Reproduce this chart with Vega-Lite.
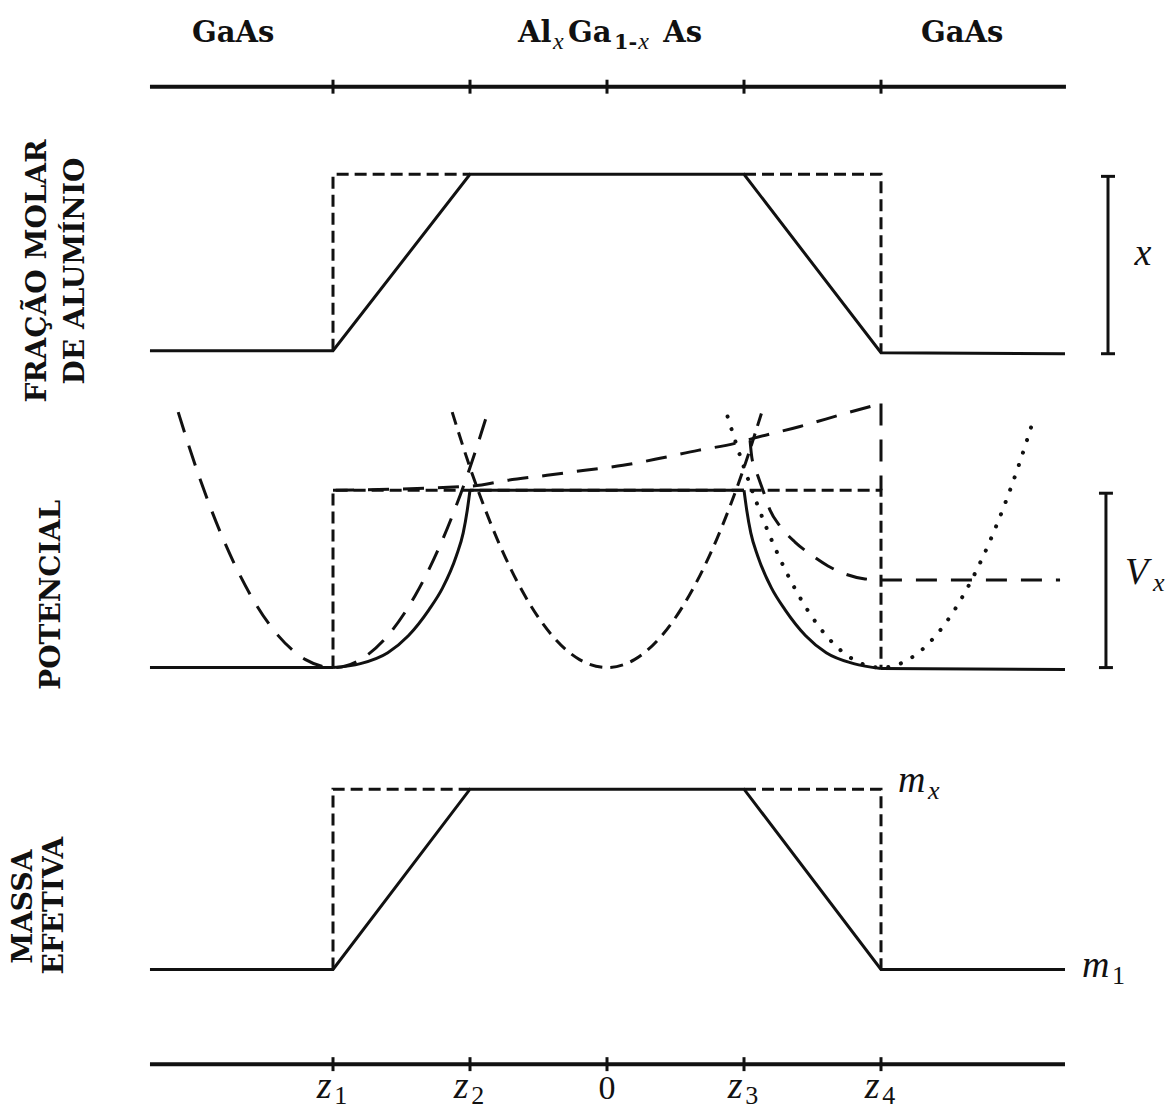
{
  "$schema": "https://vega.github.io/schema/vega-lite/v6.json",
  "width": 1168,
  "height": 1109,
  "autosize": {"type": "fit", "contains": "padding"},
  "padding": 0,
  "background": "white",
  "config": {"view": {"stroke": null}},
  "datasets": {
    "profiles": [
      {"curve": "frac_graded", "i": 0, "z": -3.336, "y": 352},
      {"curve": "frac_graded", "i": 1, "z": -2, "y": 352},
      {"curve": "frac_graded", "i": 2, "z": -1, "y": 175},
      {"curve": "frac_graded", "i": 3, "z": 1, "y": 175},
      {"curve": "frac_graded", "i": 4, "z": 2, "y": 354},
      {"curve": "frac_graded", "i": 5, "z": 3.343, "y": 355},
      {"curve": "mass_graded", "i": 0, "z": -3.336, "y": 973},
      {"curve": "mass_graded", "i": 1, "z": -2, "y": 973},
      {"curve": "mass_graded", "i": 2, "z": -1, "y": 792},
      {"curve": "mass_graded", "i": 3, "z": 1, "y": 792},
      {"curve": "mass_graded", "i": 4, "z": 2, "y": 973},
      {"curve": "mass_graded", "i": 5, "z": 3.343, "y": 973},
      {"curve": "pot_base_l", "i": 0, "z": -3.336, "y": 670},
      {"curve": "pot_base_l", "i": 1, "z": -2, "y": 670},
      {"curve": "pot_top", "i": 0, "z": -1, "y": 492},
      {"curve": "pot_top", "i": 1, "z": 1, "y": 492},
      {"curve": "pot_base_r", "i": 0, "z": 2, "y": 671},
      {"curve": "pot_base_r", "i": 1, "z": 3.343, "y": 672},
      {"curve": "pot_curve_l", "i": 0, "z": -2, "y": 670},
      {"curve": "pot_curve_l", "i": 1, "z": -1.8, "y": 666},
      {"curve": "pot_curve_l", "i": 2, "z": -1.6, "y": 655},
      {"curve": "pot_curve_l", "i": 3, "z": -1.45, "y": 638},
      {"curve": "pot_curve_l", "i": 4, "z": -1.3, "y": 612},
      {"curve": "pot_curve_l", "i": 5, "z": -1.2, "y": 590},
      {"curve": "pot_curve_l", "i": 6, "z": -1.1, "y": 558},
      {"curve": "pot_curve_l", "i": 7, "z": -1.05, "y": 535},
      {"curve": "pot_curve_l", "i": 8, "z": -1.02, "y": 512},
      {"curve": "pot_curve_l", "i": 9, "z": -1, "y": 492},
      {"curve": "pot_curve_r", "i": 0, "z": 1, "y": 492},
      {"curve": "pot_curve_r", "i": 1, "z": 1.02, "y": 512},
      {"curve": "pot_curve_r", "i": 2, "z": 1.05, "y": 535},
      {"curve": "pot_curve_r", "i": 3, "z": 1.1, "y": 558},
      {"curve": "pot_curve_r", "i": 4, "z": 1.2, "y": 590},
      {"curve": "pot_curve_r", "i": 5, "z": 1.3, "y": 612},
      {"curve": "pot_curve_r", "i": 6, "z": 1.45, "y": 638},
      {"curve": "pot_curve_r", "i": 7, "z": 1.6, "y": 655},
      {"curve": "pot_curve_r", "i": 8, "z": 1.8, "y": 666},
      {"curve": "pot_curve_r", "i": 9, "z": 2, "y": 671},
      {"curve": "frac_abrupt_l", "i": 0, "z": -2, "y": 352},
      {"curve": "frac_abrupt_l", "i": 1, "z": -2, "y": 175},
      {"curve": "frac_abrupt_l", "i": 2, "z": -1, "y": 175},
      {"curve": "frac_abrupt_r", "i": 0, "z": 1, "y": 175},
      {"curve": "frac_abrupt_r", "i": 1, "z": 2, "y": 175},
      {"curve": "frac_abrupt_r", "i": 2, "z": 2, "y": 354},
      {"curve": "mass_abrupt_l", "i": 0, "z": -2, "y": 973},
      {"curve": "mass_abrupt_l", "i": 1, "z": -2, "y": 792},
      {"curve": "mass_abrupt_l", "i": 2, "z": -1, "y": 792},
      {"curve": "mass_abrupt_r", "i": 0, "z": 1, "y": 792},
      {"curve": "mass_abrupt_r", "i": 1, "z": 2, "y": 792},
      {"curve": "mass_abrupt_r", "i": 2, "z": 2, "y": 973},
      {"curve": "pot_abrupt", "i": 0, "z": -2, "y": 670},
      {"curve": "pot_abrupt", "i": 1, "z": -2, "y": 492},
      {"curve": "pot_abrupt", "i": 2, "z": 2, "y": 492},
      {"curve": "pot_abrupt", "i": 3, "z": 2, "y": 671},
      {"curve": "pot_edge", "i": 0, "z": 2, "y": 405},
      {"curve": "pot_edge", "i": 1, "z": 2, "y": 492},
      {"curve": "pot_rise", "i": 0, "z": -2, "y": 492},
      {"curve": "pot_rise", "i": 1, "z": -1, "y": 488},
      {"curve": "pot_rise", "i": 2, "z": -0.723, "y": 482},
      {"curve": "pot_rise", "i": 3, "z": -0.438, "y": 477},
      {"curve": "pot_rise", "i": 4, "z": -0.161, "y": 472},
      {"curve": "pot_rise", "i": 5, "z": 0.117, "y": 467},
      {"curve": "pot_rise", "i": 6, "z": 0.387, "y": 460},
      {"curve": "pot_rise", "i": 7, "z": 0.664, "y": 452},
      {"curve": "pot_rise", "i": 8, "z": 0.934, "y": 445},
      {"curve": "pot_rise", "i": 9, "z": 1.066, "y": 440},
      {"curve": "pot_rise", "i": 10, "z": 1.409, "y": 428},
      {"curve": "pot_rise", "i": 11, "z": 1.737, "y": 415},
      {"curve": "pot_rise", "i": 12, "z": 2, "y": 405},
      {"curve": "pot_decay", "i": 0, "z": 1.044, "y": 442},
      {"curve": "pot_decay", "i": 1, "z": 1.058, "y": 460},
      {"curve": "pot_decay", "i": 2, "z": 1.102, "y": 478},
      {"curve": "pot_decay", "i": 3, "z": 1.146, "y": 495},
      {"curve": "pot_decay", "i": 4, "z": 1.19, "y": 512},
      {"curve": "pot_decay", "i": 5, "z": 1.263, "y": 528},
      {"curve": "pot_decay", "i": 6, "z": 1.372, "y": 544},
      {"curve": "pot_decay", "i": 7, "z": 1.482, "y": 556},
      {"curve": "pot_decay", "i": 8, "z": 1.613, "y": 568},
      {"curve": "pot_decay", "i": 9, "z": 1.737, "y": 576},
      {"curve": "pot_decay", "i": 10, "z": 1.883, "y": 581},
      {"curve": "pot_decay", "i": 11, "z": 2, "y": 582},
      {"curve": "pot_decay", "i": 12, "z": 3.307, "y": 582},
      {"curve": "par_z1", "i": 0, "z": -3.13, "y": 413.6},
      {"curve": "par_z1", "i": 1, "z": -3.0, "y": 469.2},
      {"curve": "par_z1", "i": 2, "z": -2.8, "y": 541.5},
      {"curve": "par_z1", "i": 3, "z": -2.6, "y": 597.7},
      {"curve": "par_z1", "i": 4, "z": -2.4, "y": 637.9},
      {"curve": "par_z1", "i": 5, "z": -2.2, "y": 662},
      {"curve": "par_z1", "i": 6, "z": -2.0, "y": 670},
      {"curve": "par_z1", "i": 7, "z": -1.8, "y": 662},
      {"curve": "par_z1", "i": 8, "z": -1.6, "y": 637.9},
      {"curve": "par_z1", "i": 9, "z": -1.4, "y": 597.7},
      {"curve": "par_z1", "i": 10, "z": -1.2, "y": 541.5},
      {"curve": "par_z1", "i": 11, "z": -1.0, "y": 469.2},
      {"curve": "par_z1", "i": 12, "z": -0.87, "y": 413.6},
      {"curve": "par_0", "i": 0, "z": -1.13, "y": 413.6},
      {"curve": "par_0", "i": 1, "z": -1.0, "y": 469.2},
      {"curve": "par_0", "i": 2, "z": -0.8, "y": 541.5},
      {"curve": "par_0", "i": 3, "z": -0.6, "y": 597.7},
      {"curve": "par_0", "i": 4, "z": -0.4, "y": 637.9},
      {"curve": "par_0", "i": 5, "z": -0.2, "y": 662},
      {"curve": "par_0", "i": 6, "z": 0, "y": 670},
      {"curve": "par_0", "i": 7, "z": 0.2, "y": 662},
      {"curve": "par_0", "i": 8, "z": 0.4, "y": 637.9},
      {"curve": "par_0", "i": 9, "z": 0.6, "y": 597.7},
      {"curve": "par_0", "i": 10, "z": 0.8, "y": 541.5},
      {"curve": "par_0", "i": 11, "z": 1.0, "y": 469.2},
      {"curve": "par_0", "i": 12, "z": 1.13, "y": 413.6},
      {"curve": "par_z4", "i": 0, "z": 0.88, "y": 418},
      {"curve": "par_z4", "i": 1, "z": 1.0, "y": 469.2},
      {"curve": "par_z4", "i": 2, "z": 1.2, "y": 541.5},
      {"curve": "par_z4", "i": 3, "z": 1.4, "y": 597.7},
      {"curve": "par_z4", "i": 4, "z": 1.6, "y": 637.9},
      {"curve": "par_z4", "i": 5, "z": 1.8, "y": 662},
      {"curve": "par_z4", "i": 6, "z": 2.0, "y": 670},
      {"curve": "par_z4", "i": 7, "z": 2.2, "y": 662},
      {"curve": "par_z4", "i": 8, "z": 2.4, "y": 637.9},
      {"curve": "par_z4", "i": 9, "z": 2.6, "y": 597.7},
      {"curve": "par_z4", "i": 10, "z": 2.8, "y": 541.5},
      {"curve": "par_z4", "i": 11, "z": 3.0, "y": 469.2},
      {"curve": "par_z4", "i": 12, "z": 3.12, "y": 418}
    ],
    "segments": [
      {"part": "axis_top", "z": -3.336, "y": 87, "z2": 3.35, "y2": 87},
      {"part": "axis_bottom", "z": -3.336, "y": 1068, "z2": 3.343, "y2": 1068},
      {"part": "tick_top", "z": -2, "y": 80, "z2": -2, "y2": 94},
      {"part": "tick_top", "z": -1, "y": 80, "z2": -1, "y2": 94},
      {"part": "tick_top", "z": 0, "y": 80, "z2": 0, "y2": 94},
      {"part": "tick_top", "z": 1, "y": 80, "z2": 1, "y2": 94},
      {"part": "tick_top", "z": 2, "y": 80, "z2": 2, "y2": 94},
      {"part": "tick_bottom", "z": -2, "y": 1061, "z2": -2, "y2": 1075},
      {"part": "tick_bottom", "z": -1, "y": 1061, "z2": -1, "y2": 1075},
      {"part": "tick_bottom", "z": 0, "y": 1061, "z2": 0, "y2": 1075},
      {"part": "tick_bottom", "z": 1, "y": 1061, "z2": 1, "y2": 1075},
      {"part": "tick_bottom", "z": 2, "y": 1061, "z2": 2, "y2": 1075},
      {"part": "bar_x", "z": 3.657, "y": 177, "z2": 3.657, "y2": 355},
      {"part": "bar_x_cap", "z": 3.606, "y": 177, "z2": 3.708, "y2": 177},
      {"part": "bar_x_cap", "z": 3.606, "y": 355, "z2": 3.708, "y2": 355},
      {"part": "bar_v", "z": 3.642, "y": 495, "z2": 3.642, "y2": 670},
      {"part": "bar_v_cap", "z": 3.591, "y": 495, "z2": 3.693, "y2": 495},
      {"part": "bar_v_cap", "z": 3.591, "y": 670, "z2": 3.693, "y2": 670}
    ],
    "headers": [
      {"t": "GaAs", "z": -3.029, "y": 42},
      {"t": "Al", "z": -0.65, "y": 42},
      {"t": "Ga", "z": -0.285, "y": 42},
      {"t": "As", "z": 0.41, "y": 42},
      {"t": "GaAs", "z": 2.292, "y": 42}
    ],
    "headerSubItalic": [
      {"t": "x", "z": -0.394, "y": 49},
      {"t": "x", "z": 0.228, "y": 49}
    ],
    "headerSubUpright": [
      {"t": "1-", "z": 0.051, "y": 49}
    ],
    "sideLabels": [
      {"t": "FRAÇÃO MOLAR", "z": -4.153, "y": 272},
      {"t": "DE ALUMÍNIO", "z": -3.876, "y": 272},
      {"t": "POTENCIAL", "z": -4.051, "y": 597},
      {"t": "MASSA", "z": -4.255, "y": 910},
      {"t": "EFETIVA", "z": -4.029, "y": 909}
    ],
    "mathLabels": [
      {"t": "x", "z": 3.85, "y": 266},
      {"t": "V", "z": 3.781, "y": 586},
      {"t": "m", "z": 2.124, "y": 795},
      {"t": "m", "z": 3.467, "y": 981}
    ],
    "zLabels": [
      {"t": "z", "z": -2.01, "y": 1102},
      {"t": "z", "z": -1.01, "y": 1102},
      {"t": "z", "z": 0.99, "y": 1102},
      {"t": "z", "z": 1.99, "y": 1102}
    ],
    "mathSubItalic": [
      {"t": "x", "z": 3.985, "y": 593},
      {"t": "x", "z": 2.343, "y": 802}
    ],
    "subDigits": [
      {"t": "1", "z": 3.686, "y": 988},
      {"t": "1", "z": -1.99, "y": 1108},
      {"t": "2", "z": -0.99, "y": 1108},
      {"t": "3", "z": 1.01, "y": 1108},
      {"t": "4", "z": 2.01, "y": 1108}
    ],
    "origin": [
      {"t": "0", "z": 0, "y": 1103}
    ]
  },
  "encoding": {
    "x": {"field": "z", "type": "quantitative", "scale": {"domain": [-4.4307, 4.0949], "nice": false, "zero": false}, "axis": null},
    "y": {"field": "y", "type": "quantitative", "scale": {"domain": [0, 1109], "reverse": true, "nice": false, "zero": false}, "axis": null}
  },
  "layer": [
    {
      "data": {"name": "profiles"},
      "transform": [{"filter": {"field": "curve", "oneOf": ["frac_graded", "mass_graded", "pot_base_l", "pot_top", "pot_base_r"]}}],
      "mark": {"type": "line", "color": "#111111", "strokeWidth": 3, "strokeJoin": "miter"},
      "encoding": {"detail": {"field": "curve"}, "order": {"field": "i", "type": "quantitative"}}
    },
    {
      "data": {"name": "profiles"},
      "transform": [{"filter": {"field": "curve", "oneOf": ["pot_curve_l", "pot_curve_r"]}}],
      "mark": {"type": "line", "color": "#111111", "strokeWidth": 3, "interpolate": "monotone"},
      "encoding": {"detail": {"field": "curve"}, "order": {"field": "i", "type": "quantitative"}}
    },
    {
      "data": {"name": "profiles"},
      "transform": [{"filter": {"field": "curve", "oneOf": ["frac_abrupt_l", "frac_abrupt_r", "mass_abrupt_l", "mass_abrupt_r", "pot_abrupt"]}}],
      "mark": {"type": "line", "color": "#111111", "strokeWidth": 3, "strokeDash": [12, 6], "strokeJoin": "miter"},
      "encoding": {"detail": {"field": "curve"}, "order": {"field": "i", "type": "quantitative"}}
    },
    {
      "data": {"name": "profiles"},
      "transform": [{"filter": {"field": "curve", "oneOf": ["pot_edge"]}}],
      "mark": {"type": "line", "color": "#111111", "strokeWidth": 3, "strokeDash": [22, 14]},
      "encoding": {"detail": {"field": "curve"}, "order": {"field": "i", "type": "quantitative"}}
    },
    {
      "data": {"name": "profiles"},
      "transform": [{"filter": {"field": "curve", "oneOf": ["pot_rise", "pot_decay", "par_z1"]}}],
      "mark": {"type": "line", "color": "#111111", "strokeWidth": 3, "strokeDash": [21, 14], "interpolate": "monotone"},
      "encoding": {"detail": {"field": "curve"}, "order": {"field": "i", "type": "quantitative"}}
    },
    {
      "data": {"name": "profiles"},
      "transform": [{"filter": {"field": "curve", "oneOf": ["par_0"]}}],
      "mark": {"type": "line", "color": "#111111", "strokeWidth": 3, "strokeDash": [13, 8], "interpolate": "monotone"},
      "encoding": {"detail": {"field": "curve"}, "order": {"field": "i", "type": "quantitative"}}
    },
    {
      "data": {"name": "profiles"},
      "transform": [{"filter": {"field": "curve", "oneOf": ["par_z4"]}}],
      "mark": {"type": "line", "color": "#111111", "strokeWidth": 4, "strokeDash": [0.1, 13], "strokeCap": "round", "interpolate": "monotone"},
      "encoding": {"detail": {"field": "curve"}, "order": {"field": "i", "type": "quantitative"}}
    },
    {
      "data": {"name": "segments"},
      "transform": [{"filter": {"field": "part", "oneOf": ["axis_top", "axis_bottom"]}}],
      "mark": {"type": "rule", "color": "#111111", "strokeWidth": 4},
      "encoding": {"x2": {"field": "z2"}, "y2": {"field": "y2"}}
    },
    {
      "data": {"name": "segments"},
      "transform": [{"filter": {"not": {"field": "part", "oneOf": ["axis_top", "axis_bottom"]}}}],
      "mark": {"type": "rule", "color": "#111111", "strokeWidth": 3},
      "encoding": {"x2": {"field": "z2"}, "y2": {"field": "y2"}}
    },
    {
      "data": {"name": "headers"},
      "mark": {"type": "text", "font": "DejaVu Serif", "fontWeight": "bold", "fontSize": 29, "align": "left", "baseline": "alphabetic", "color": "#111111"},
      "encoding": {"text": {"field": "t"}}
    },
    {
      "data": {"name": "headerSubItalic"},
      "mark": {"type": "text", "font": "Liberation Serif", "fontStyle": "italic", "fontSize": 24, "align": "left", "baseline": "alphabetic", "color": "#111111"},
      "encoding": {"text": {"field": "t"}}
    },
    {
      "data": {"name": "headerSubUpright"},
      "mark": {"type": "text", "font": "DejaVu Serif", "fontWeight": "bold", "fontSize": 21, "align": "left", "baseline": "alphabetic", "color": "#111111"},
      "encoding": {"text": {"field": "t"}}
    },
    {
      "data": {"name": "sideLabels"},
      "mark": {"type": "text", "font": "DejaVu Serif", "fontWeight": "bold", "fontSize": 28, "angle": 270, "align": "center", "baseline": "middle", "color": "#111111"},
      "encoding": {"text": {"field": "t"}}
    },
    {
      "data": {"name": "mathLabels"},
      "mark": {"type": "text", "font": "Liberation Serif", "fontStyle": "italic", "fontSize": 38, "align": "left", "baseline": "alphabetic", "color": "#111111"},
      "encoding": {"text": {"field": "t"}}
    },
    {
      "data": {"name": "zLabels"},
      "mark": {"type": "text", "font": "Liberation Serif", "fontStyle": "italic", "fontSize": 38, "align": "right", "baseline": "alphabetic", "color": "#111111"},
      "encoding": {"text": {"field": "t"}}
    },
    {
      "data": {"name": "mathSubItalic"},
      "mark": {"type": "text", "font": "Liberation Serif", "fontStyle": "italic", "fontSize": 26, "align": "left", "baseline": "alphabetic", "color": "#111111"},
      "encoding": {"text": {"field": "t"}}
    },
    {
      "data": {"name": "subDigits"},
      "mark": {"type": "text", "font": "Liberation Serif", "fontSize": 26, "align": "left", "baseline": "alphabetic", "color": "#111111"},
      "encoding": {"text": {"field": "t"}}
    },
    {
      "data": {"name": "origin"},
      "mark": {"type": "text", "font": "Liberation Serif", "fontSize": 34, "align": "center", "baseline": "alphabetic", "color": "#111111"},
      "encoding": {"text": {"field": "t"}}
    }
  ]
}
